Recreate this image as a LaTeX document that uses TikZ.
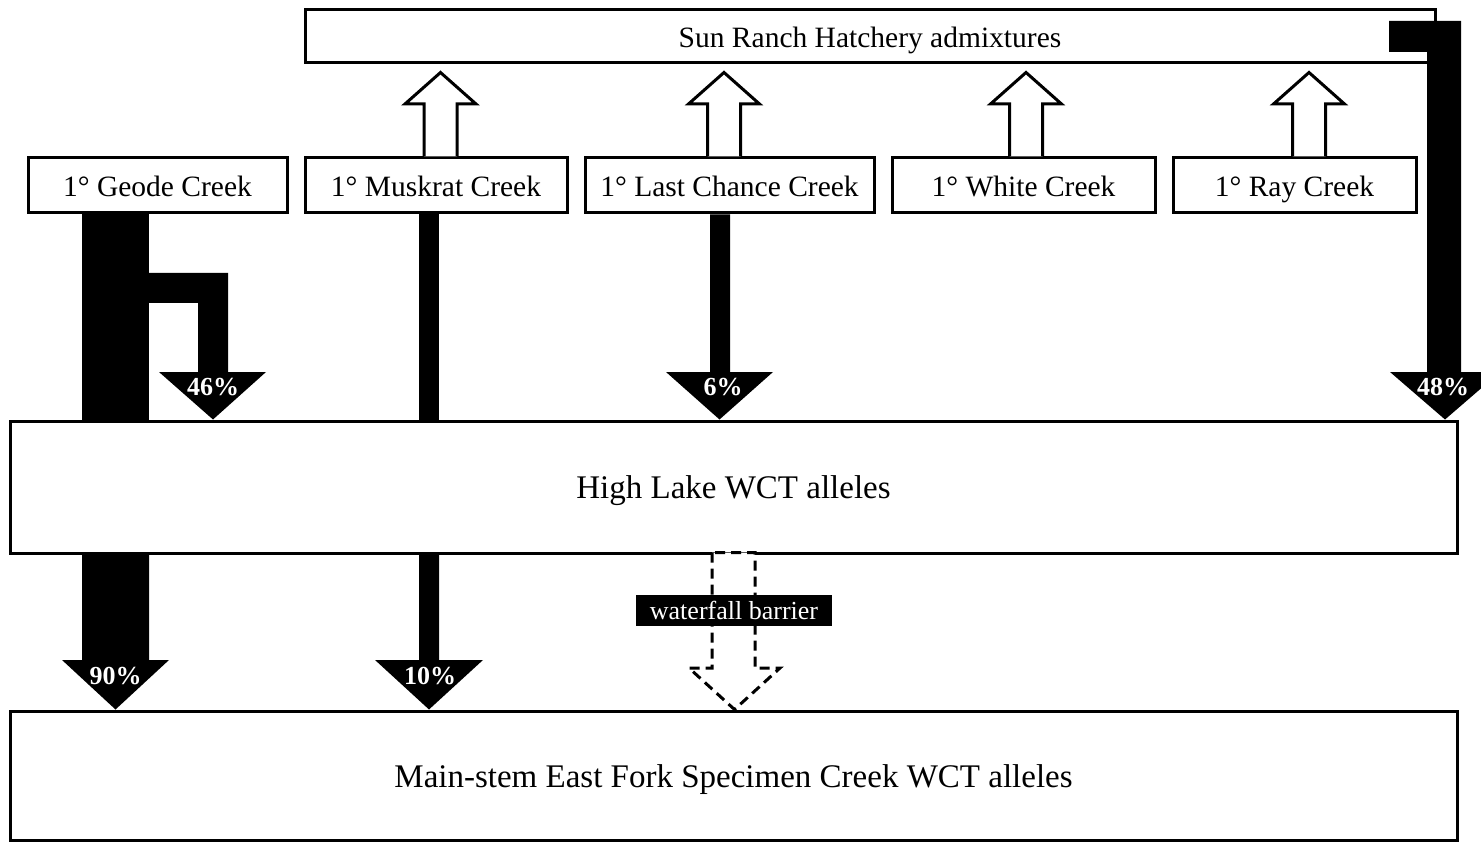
\documentclass[tikz,border=0pt]{standalone}
\usepackage{fontspec}
\setmainfont{Liberation Serif}
\usetikzlibrary{calc}
\tikzset{box/.style={draw,line width=3pt,fill=white,inner sep=0pt,text height=23.6pt,
 text depth=2.4pt,font=\fontsize{29.5}{34}\selectfont},creek/.style={box,minimum height=55pt},
 bigbox/.style={box,minimum width=1447pt,text height=26.4pt,text depth=2.6pt,
 font=\fontsize{33}{40}\selectfont},
 flow/.style={fill=black},upflow/.style={draw,line width=3pt,fill=white,line join=miter},
 barrier/.style={draw,line width=3pt,fill=white,dash pattern=on 10pt off 6pt},
 share/.style={text=white,inner sep=0pt,text height=19.5pt,text depth=1.3pt,
 font=\bfseries\fontsize{26}{30}\selectfont}}

\begin{document}
\begin{tikzpicture}[x=1pt,y=-1pt]
\useasboundingbox (0,0) rectangle (1481,842);
% boxes
\node[box,minimum width=1130pt,minimum height=53pt] (sun) at (870,36.5) {Sun Ranch Hatchery admixtures};
\node[creek,minimum width=259pt] (geode) at (157.5,185.5) {1° Geode Creek};
\node[creek,minimum width=262pt] (musk) at (436,185.5) {1° Muskrat Creek};
\node[creek,minimum width=289pt] (last) at (729.5,185.5) {1° Last Chance Creek};
\node[creek,minimum width=263pt] (white) at (1023.5,185.5) {1° White Creek};
\node[creek,minimum width=243pt] (ray) at (1294.5,185.5) {1° Ray Creek};
\node[bigbox,minimum height=132pt] (high) at (733.5,487) {High Lake WCT alleles};
\node[bigbox,minimum height=129pt] (main) at (733.5,775.5) {Main-stem East Fork Specimen Creek WCT alleles};
% Geode Creek
\fill[flow] (82,0 |- geode.south) rectangle (149,0 |- high.north);
\fill[flow] (149,273) -- (228,273) -- (228,372) -- (266,372) -- (213,0 |- high.north)
 -- (159,372) -- (198,372) -- (198,303) -- (149,303) -- cycle;
\fill[flow] (82,0 |- high.south) -- (82,660) -- (62,660) -- (115.5,0 |- main.north)
 -- (169,660) -- (149,660) -- (149,0 |- high.south) -- cycle;
% Muskrat Creek
\fill[flow] (419,0 |- musk.south) rectangle (439,0 |- high.north);
\fill[flow] (419,0 |- high.south) -- (419,660) -- (375,660) -- (429,0 |- main.north)
 -- (483,660) -- (439,660) -- (439,0 |- high.south) -- cycle;
% Last Chance Creek
\fill[flow] (710,0 |- last.south) -- (710,372) -- (666,372) -- (719.5,0 |- high.north)
 -- (773,372) -- (730,372) -- (730,0 |- last.south) -- cycle;
% hatchery
\fill[flow] (1389,21) -- (1461,21) -- (1461,372) -- (1500,372) -- (1445,0 |- high.north)
 -- (1390,372) -- (1427,372) -- (1427,52) -- (1389,52) -- cycle;
\node[share] at ($(213,0 |- high.north)+(0,-33)$) {46\%};
\node[share] at ($(723,0 |- high.north)+(0,-33)$) {6\%};
\node[share] at ($(1443,0 |- high.north)+(0,-33)$) {48\%};
\node[share] at ($(115.5,0 |- main.north)+(0,-34)$) {90\%};
\node[share] at ($(430,0 |- main.north)+(0,-34)$) {10\%};
% admixture arrows
\foreach \c/\n in {440.5/musk,724/last,1026/white,1309/ray}
 \draw[upflow] (\c-16.5,0 |- \n.north) -- (\c-16.5,104) -- (\c-35.5,104)
  -- ($(\c,0 |- sun.south)+(0,8)$) -- (\c+35.5,104) -- (\c+16.5,104) -- (\c+16.5,0 |- \n.north);
% waterfall
\draw[barrier] ($(712,0 |- high.south)+(0,-2)$) -- (712,668) -- (689,668) -- (734.5,0 |- main.north)
 -- (780,668) -- (755,668) -- ($(755,0 |- high.south)+(0,-2)$) -- cycle;
\node[fill=black,text=white,inner sep=0pt,minimum width=196pt,minimum height=31pt,
 font=\fontsize{26}{30}\selectfont] (fall) at (734,610.5) {waterfall barrier};
\end{tikzpicture}
\end{document}
